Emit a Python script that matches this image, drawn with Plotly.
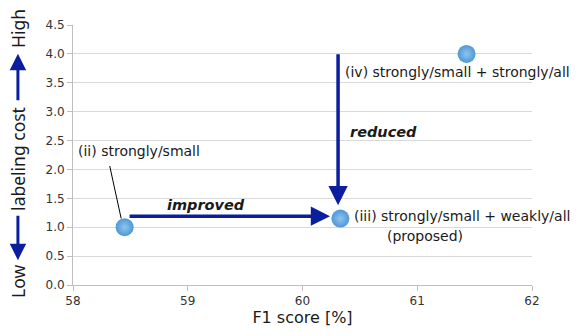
import plotly.graph_objects as go

# data
f1_score = [58.45, 60.33, 61.43]
labeling_cost = [1.0, 1.15, 4.0]
point_labels = ["(ii) strongly/small", "(iii) strongly/small + weakly/all", "(iv) strongly/small + strongly/all"]
x_ticks = [58, 59, 60, 61, 62]
y_ticks = [0.0, 0.5, 1.0, 1.5, 2.0, 2.5, 3.0, 3.5, 4.0, 4.5]

FONT = "DejaVu Sans"
TFONT = "Noto Sans"
ARROW = "#0b1f9e"
TXT = "#1a1a1a"

fig = go.Figure()
fig.add_trace(go.Scatter(
    x=f1_score, y=labeling_cost, mode="markers",
    marker=dict(size=18, color="#4f97d6",
                gradient=dict(type="radial", color="#8ec5ee"),
                line=dict(width=0)),
    hoverinfo="skip", showlegend=False,
))

ann = []
def txt(x, y, t, size=14, anchor="left", bold_italic=False):
    if bold_italic:
        t = "<b><i>" + t + "</i></b>"
    ann.append(dict(x=x, y=y, xref="x", yref="y", text=t, showarrow=False,
                    xanchor=anchor, yanchor="middle",
                    font=dict(family=FONT, size=size, color=TXT)))

txt(60.35, 3.68, point_labels[2])
txt(60.43, 1.19, point_labels[1])
txt(61.07, 0.84, "(proposed)", anchor="center")
txt(58.03, 2.32, point_labels[0])
txt(60.40, 2.65, "reduced", size=14.5, bold_italic=True)
txt(58.80, 1.39, "improved", size=14.5, bold_italic=True)

# arrows in data space
ann.append(dict(x=60.24, y=1.19, ax=58.48, ay=1.19, xref="x", yref="y",
                axref="x", ayref="y", text="", showarrow=True,
                arrowhead=2, arrowwidth=3.5, arrowsize=1.1, arrowcolor=ARROW))
ann.append(dict(x=60.31, y=1.38, ax=60.31, ay=4.02, xref="x", yref="y",
                axref="x", ayref="y", text="", showarrow=True,
                arrowhead=2, arrowwidth=3.5, arrowsize=1.1, arrowcolor=ARROW))

# y axis title composed of words + arrows
def ytxt(ypx, t):
    ann.append(dict(x=-0.12, y=(287 - ypx) / 262, xref="paper", yref="paper",
                    text=t, showarrow=False, textangle=-90,
                    xanchor="center", yanchor="middle",
                    font=dict(family=TFONT, size=17.5, color=TXT)))
ytxt(28, "High")
ytxt(160, "labeling cost")
ytxt(283, "Low")
ann.append(dict(x=-0.12, y=(287 - 54) / 262, ax=0, ay=48, xref="paper", yref="paper",
                text="", showarrow=True, arrowhead=2, arrowwidth=3,
                arrowsize=1.1, arrowcolor=ARROW))
ann.append(dict(x=-0.12, y=(287 - 262) / 262, ax=0, ay=-46, xref="paper", yref="paper",
                text="", showarrow=True, arrowhead=2, arrowwidth=3,
                arrowsize=1.1, arrowcolor=ARROW))

fig.update_layout(
    width=584, height=336,
    margin=dict(l=73, r=52, t=25, b=49),
    paper_bgcolor="white", plot_bgcolor="white",
    annotations=ann,
    shapes=[dict(type="line", xref="x", yref="y", x0=58.32, y0=2.06, x1=58.42, y1=1.15,
                 line=dict(color="black", width=1))],
    xaxis=dict(range=[58, 62], tickvals=x_ticks, ticktext=[str(v) for v in x_ticks],
               showgrid=False, zeroline=False, showline=True, linecolor="#bfbfbf",
               linewidth=1, ticks="outside", ticklen=5, tickcolor="#bfbfbf",
               tickfont=dict(family=FONT, size=12, color="#333333"),
               title=dict(text="F1 score [%]", standoff=4,
                          font=dict(family=FONT, size=16, color=TXT))),
    yaxis=dict(range=[0, 4.5], tickvals=y_ticks, ticktext=[f"{v:.1f}" for v in y_ticks],
               showgrid=True, gridcolor="#d9d9d9", gridwidth=1, zeroline=False,
               showline=True, linecolor="#bfbfbf", linewidth=1,
               ticks="outside", ticklen=5, tickcolor="#bfbfbf",
               tickfont=dict(family=FONT, size=12, color="#333333")),
)

fig.write_html("out.html", config={"displayModeBar": False},
               post_script="document.body.style.margin='0';")
